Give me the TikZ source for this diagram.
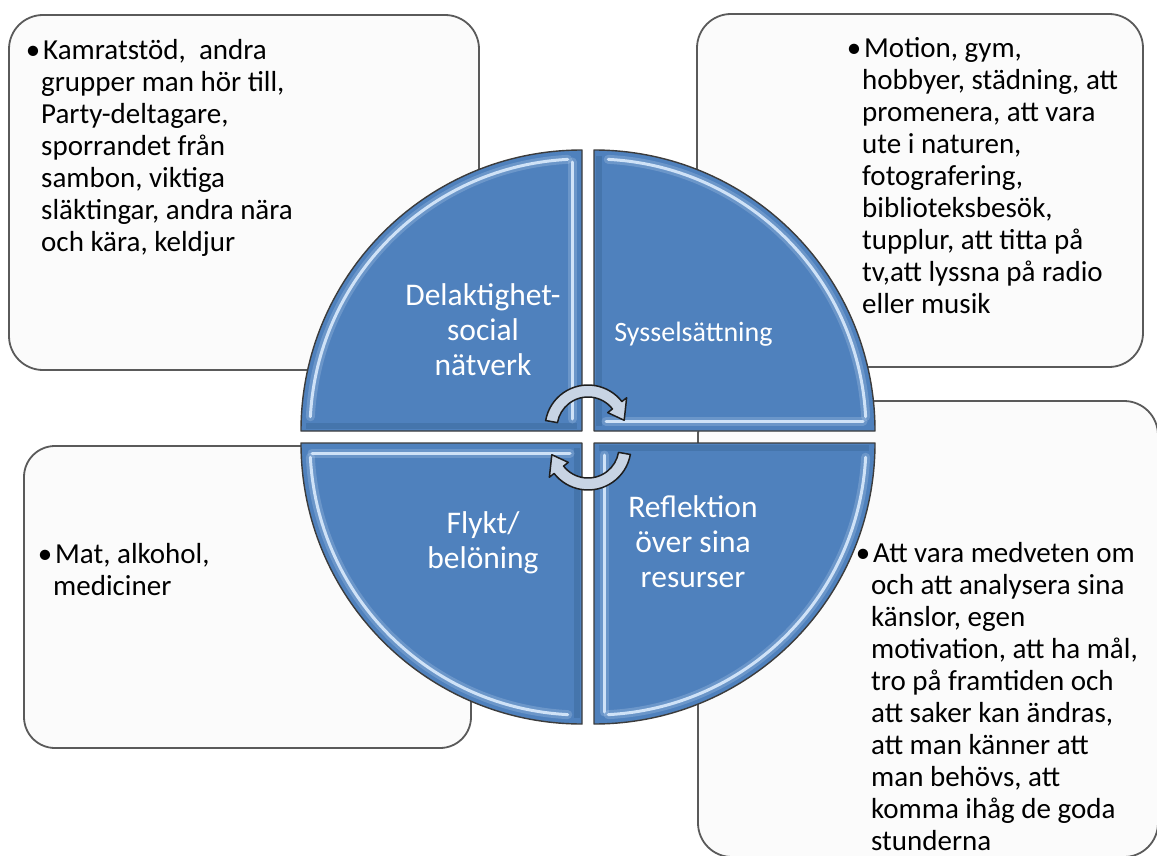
\documentclass[tikz,border=0pt]{standalone}
\usepackage{fontspec}
\setmainfont{Carlito}
\definecolor{boxline}{HTML}{5A5A5A}
\definecolor{boxfill}{HTML}{FBFBFB}
\definecolor{quadblue}{HTML}{4F81BD}
\definecolor{quadline}{HTML}{3C3C3C}
\definecolor{quaddark}{HTML}{35608F}
\definecolor{glintblue}{HTML}{CFE2F7}
\definecolor{arrowfill}{HTML}{C8D4E4}
\definecolor{arrowline}{HTML}{1E1E1E}
\newcommand{\itembullet}{\hspace{2pt}\llap{•\hspace{3pt}}}
\begin{document}
\begin{tikzpicture}[x=1pt,y=-1pt,
  infobox/.style={draw=boxline, line width=1.8pt, fill=boxfill, rounded corners=34pt},
  quad/.style={fill=quadblue, draw=quadline, line width=1.4pt, line join=round},
  glint/.style={draw=glintblue, line width=3pt, line cap=round},
  glow/.style={draw=glintblue, line width=9pt, opacity=0.22, line cap=round},
  dim/.style={draw=quaddark, line width=6pt, opacity=0.35},
  cyclearrow/.style={fill=arrowfill, draw=arrowline, line width=1.5pt, line join=round},
  bodytext/.style={anchor=north west, align=left, inner sep=0pt,
    font=\fontsize{29}{32}\selectfont, text=black},
  quadtext/.style={anchor=north, align=center, inner sep=0pt,
    font=\fontsize{31.5}{35}\selectfont, text=white},
]
\useasboundingbox (0,0) rectangle (1157,856);

% rounded text boxes behind the circle
\path[infobox] (9,15) rectangle (479,370);
\path[infobox] (697,14) rectangle (1143,367);
\path[infobox, rounded corners=31pt] (24,446) rectangle (471,748);
\path[infobox] (698,401) rectangle (1158,857);

% four quarter segments of the circle
\path[quad] (582,431) -- (301,431) arc[start angle=180,end angle=270,radius=281] -- cycle;
\path[quad] (594,431) -- (594,150) arc[start angle=270,end angle=360,radius=281] -- cycle;
\path[quad] (594,443) -- (875,443) arc[start angle=0,end angle=90,radius=281] -- cycle;
\path[quad] (582,443) -- (582,724) arc[start angle=90,end angle=180,radius=281] -- cycle;

% darker bevel on the shaded straight edges
\draw[dim] (306,426) -- (577,426);
\draw[dim] (599,156) -- (599,426);
\draw[dim] (599,448) -- (869,448);
\draw[dim] (577,448) -- (577,718);

% bevel highlights
\foreach \s in {glow,glint}{
  \draw[\s] (572,162) -- (572,419);
  \draw[\s] ([shift={(183:272)}]582,431) arc[start angle=183,end angle=267,radius=272];
  \draw[\s] (606,421) -- (863,421);
  \draw[\s] ([shift={(273:272)}]594,431) arc[start angle=273,end angle=357,radius=272];
  \draw[\s] (604,455) -- (604,712);
  \draw[\s] ([shift={(3:272)}]594,443) arc[start angle=3,end angle=87,radius=272];
  \draw[\s] (312,453) -- (570,453);
  \draw[\s] ([shift={(93:272)}]582,443) arc[start angle=93,end angle=177,radius=272];
}

% circular arrows in the middle
\begin{scope}[shift={(588,428)}]
  \path[cyclearrow] (190:43) arc[start angle=190,end angle=322,radius=43]
    -- (322:49) -- (348:37) -- (322:25) -- (322:31)
    arc[start angle=322,end angle=190,radius=31] -- cycle;
\end{scope}
\begin{scope}[shift={(588,447)}, rotate=180]
  \path[cyclearrow] (190:43) arc[start angle=190,end angle=322,radius=43]
    -- (322:49) -- (348:37) -- (322:25) -- (322:31)
    arc[start angle=322,end angle=190,radius=31] -- cycle;
\end{scope}

% segment labels
\node[quadtext] (social) at (483,280.5) {\strut Delaktighet-\\social\\nätverk};
\node[anchor=base, inner sep=0pt, font=\fontsize{28}{34}\selectfont, text=white]
  (work) at (693.5,341) {Sysselsättning};
\node[quadtext] (escape) at (483,508.5) {\strut Flykt/\\belöning};
\node[quadtext] (reflect) at (693,492.5) {\strut Reflektion\\över sina\\resurser};

% box texts
\node[bodytext] (socialtxt) at (41,36.6) {\strut\itembullet Kamratstöd,~~andra\\grupper man hör till,\\Party-deltagare,\\sporrandet från\\sambon, viktiga\\släktingar, andra nära\\och kära, keldjur};
\node[bodytext] (worktxt) at (862,34.6) {\strut\itembullet Motion, gym,\\hobbyer, städning, att\\promenera, att vara\\ute i naturen,\\fotografering,\\biblioteksbesök,\\tupplur, att titta på\\tv,att lyssna på radio\\eller musik};
\node[bodytext] (escapetxt) at (53,540.6) {\strut\itembullet Mat, alkohol,\\mediciner};
\node[bodytext] (reflecttxt) at (871,539.6) {\strut\itembullet Att vara medveten om\\och att analysera sina\\känslor, egen\\motivation, att ha mål,\\tro på framtiden och\\att saker kan ändras,\\att man känner att\\man behövs, att\\komma ihåg de goda\\stunderna};
\end{tikzpicture}
\end{document}
